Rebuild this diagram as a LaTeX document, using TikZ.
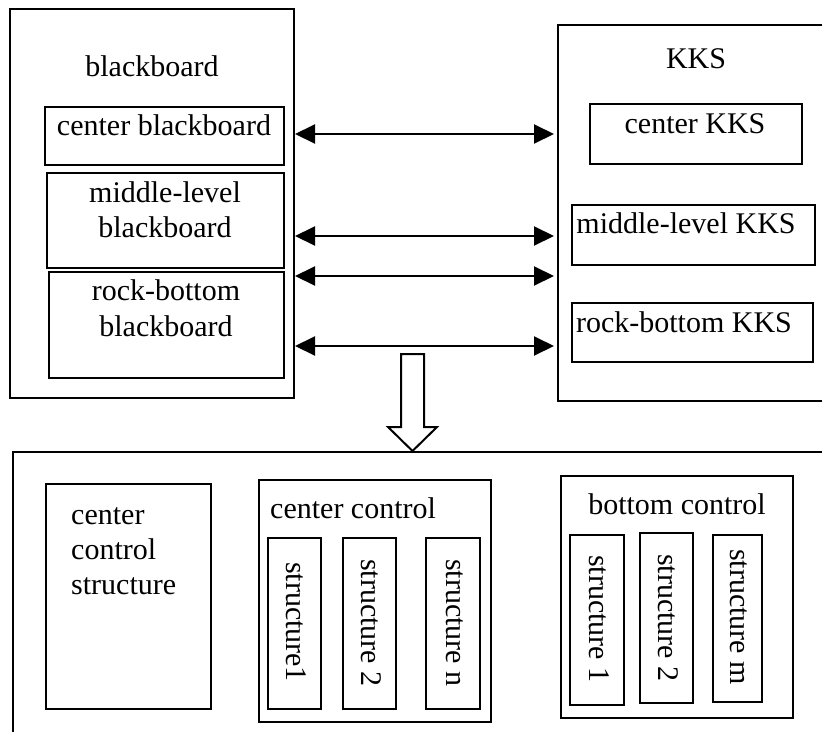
\documentclass[tikz,border=0pt]{standalone}
\usepackage{fontspec}
\setmainfont{Liberation Serif}
\usetikzlibrary{arrows.meta}
\begin{document}
\begin{tikzpicture}[x=1pt,y=-1pt,
  box/.style={draw=black,line width=2.2pt},
  lbl/.style={font=\fontsize{30}{35}\selectfont,inner sep=0pt,anchor=base},
  lbll/.style={font=\fontsize{30}{35}\selectfont,inner sep=0pt,anchor=base west},
  vlbl/.style={font=\fontsize{30}{35}\selectfont,inner sep=0pt,rotate=-90},
  biarrow/.style={line width=2pt,{Triangle[length=20pt,width=19pt]}-{Triangle[length=20pt,width=19pt]}}]
\useasboundingbox (0,0) rectangle (822,731);
\clip (0,0) rectangle (822,731);
% blackboard side
\draw[box] (10,9) rectangle (294,398);
\node[lbl] (bbt) at (152,76) {blackboard};
\draw[box] (45,107) rectangle (284,165);
\node[lbl] (cb) at (164,135) {center blackboard};
\draw[box] (47,173) rectangle (284,268);
\node[lbl] (mb1) at (165,202) {middle-level};
\node[lbl] (mb2) at (165,237) {blackboard};
\draw[box] (49,272) rectangle (284,378);
\node[lbl] (rb1) at (166,300) {rock-bottom};
\node[lbl] (rb2) at (166,336) {blackboard};
% KKS side
\draw[box] (558,25) rectangle (840,401);
\node[lbl] (kt) at (696,68) {KKS};
\draw[box] (590,104) rectangle (802,164);
\node[lbl] (ck) at (695,133) {center KKS};
\draw[box] (572,205) rectangle (815,265);
\node[lbl] (mk) at (686,233) {middle-level KKS};
\draw[box] (572,303) rectangle (813,362);
\node[lbl] (rk) at (684,332) {rock-bottom KKS};
% arrows
\coordinate (l1) at (295,134); \coordinate (r1) at (554,134);
\coordinate (l2) at (295,236); \coordinate (r2) at (554,236);
\coordinate (l3) at (295,276); \coordinate (r3) at (554,276);
\coordinate (l4) at (295,346); \coordinate (r4) at (554,346);
\draw[biarrow] (l1) -- (r1);
\draw[biarrow] (l2) -- (r2);
\draw[biarrow] (l3) -- (r3);
\draw[biarrow] (l4) -- (r4);
% hollow arrow
\draw[line width=2pt,fill=white,line join=miter] (401,354) -- (424,354) -- (424,427) -- (437,427) -- (412.5,451) -- (388,427) -- (401,427) -- cycle;
% bottom section
\draw[box] (13,452) rectangle (840,760);
\draw[box] (46,484) rectangle (211,709);
\node[lbll] (cs1) at (71,524) {center};
\node[lbll] (cs2) at (71,559) {control};
\node[lbll] (cs3) at (71,594) {structure};
\draw[box] (259,480) rectangle (491,722);
\node[lbll] (cct) at (270,518) {center control};
\draw[box] (268,538) rectangle (321,709);
\node[vlbl] (s1) at (296,622) {structure1};
\draw[box] (343,538) rectangle (396,709);
\node[vlbl] (s2) at (371,623) {structure 2};
\draw[box] (426,538) rectangle (480,709);
\node[vlbl] (sn) at (455,623) {structure n};
\draw[box] (561,476) rectangle (793,718);
\node[lbl] (bct) at (677,514) {bottom control};
\draw[box] (570,535) rectangle (624,705);
\node[vlbl] (b1) at (599,619) {structure 1};
\draw[box] (640,533) rectangle (693,703);
\node[vlbl] (b2) at (668,618) {structure 2};
\draw[box] (713,535) rectangle (762,702);
\node[vlbl] (bm) at (739,617) {structure m};
\end{tikzpicture}
\end{document}
